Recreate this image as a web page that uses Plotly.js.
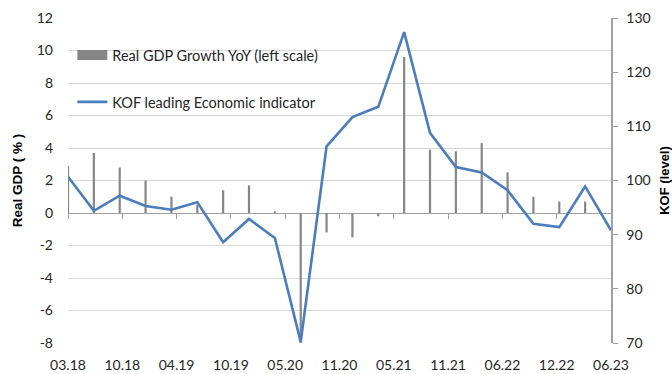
<!DOCTYPE html>
<html>
<head>
<meta charset="utf-8">
<script src="https://cdn.plot.ly/plotly-3.0.1.min.js"></script>
<style>html,body{margin:0;padding:0;background:#fff;}#chart{width:672px;height:374px;}</style>
</head>
<body>
<div id="chart"></div>
<script>
// Quarterly observations, 03.18 .. 06.23 (22 quarters)
const quarters = ["03.18","06.18","09.18","12.18","03.19","06.19","09.19","12.19","03.20","06.20","09.20","12.20","03.21","06.21","09.21","12.21","03.22","06.22","09.22","12.22","03.23","06.23"];
const gdpGrowth = [2.9, 3.7, 2.8, 2.0, 1.0, 0.5, 1.4, 1.7, 0.1, -8.0, -1.2, -1.5, -0.2, 9.6, 3.9, 3.8, 4.3, 2.5, 1.0, 0.7, 0.7, null];
const kof = [100.7, 94.4, 97.2, 95.3, 94.6, 96.0, 88.6, 92.9, 89.4, 70.2, 106.3, 111.7, 113.6, 127.4, 108.8, 102.5, 101.5, 98.2, 92.0, 91.4, 98.9, 90.8];
const tickLabels = ["03.18","10.18","04.19","10.19","05.20","11.20","05.21","11.21","06.22","12.22","06.23"];
const leftTicks = [-8, -6, -4, -2, 0, 2, 4, 6, 8, 10, 12];
const rightTicks = [70, 80, 90, 100, 110, 120, 130];

const gdpName = "Real GDP Growth YoY (left scale)";
const kofName = "KOF leading Economic indicator";

const idx = quarters.map((q, i) => i);
const nInt = tickLabels.length - 1;
const span = quarters.length - 1;
const tickPos = tickLabels.map((t, k) => k * span / nInt);

const FONT = "Lato, 'Open Sans', sans-serif";
const TFONT = "'Liberation Sans', Arial, sans-serif";
const txt = "#262626";
const barColor = "#868686";
const axisGrey = "#a0a0a0";

const traces = [
  {
    type: "bar", x: idx, y: gdpGrowth, xaxis: "x", yaxis: "y",
    name: gdpName, showlegend: false,
    marker: {color: barColor, line: {width: 0}},
    width: 0.085, legendgroup: "a", hoverinfo: "x+y"
  },
  // legend key for the bars (wide grey block, as in the original legend)
  {
    type: "scatter", mode: "lines", x: [null], y: [null], xaxis: "x", yaxis: "y",
    name: gdpName, line: {color: barColor, width: 10}, legendgroup: "a", hoverinfo: "skip"
  },
  {
    type: "scatter", mode: "lines", x: idx, y: kof, xaxis: "x", yaxis: "y2",
    name: kofName,
    line: {color: "#4a7dbd", width: 2.6},
    legendgroup: "b"
  },
  {
    type: "scatter", mode: "lines", x: [0, span], y: [null, null], xaxis: "x2", yaxis: "y",
    showlegend: false, hoverinfo: "skip"
  }
];

const layout = {
  width: 672, height: 374,
  margin: {l: 68, r: 61, t: 18, b: 31, pad: 0},
  paper_bgcolor: "#fff", plot_bgcolor: "rgba(0,0,0,0)",
  font: {family: FONT, size: 14, color: txt},
  barmode: "overlay",
  showlegend: true,
  legend: {
    x: 0.008, y: 0.935, xanchor: "left", yanchor: "top",
    bgcolor: "rgba(0,0,0,0)", borderwidth: 0,
    font: {family: FONT, size: 14.5, color: txt},
    traceorder: "grouped", tracegroupgap: 25
  },
  xaxis: {
    range: [0, span], showgrid: false, zeroline: false, showline: false,
    tickmode: "array", tickvals: tickPos, ticktext: tickLabels,
    ticks: "", ticklabelstandoff: 12,
    tickfont: {family: FONT, size: 14, color: txt}
  },
  xaxis2: {
    overlaying: "x", anchor: "free", position: 0.4,
    range: [0, span], showgrid: false, zeroline: false, showline: false,
    tickmode: "array", tickvals: tickPos, ticks: "outside", ticklen: 5, tickwidth: 1,
    tickcolor: axisGrey, showticklabels: false
  },
  yaxis: {
    range: [-8, 12],
    tickmode: "array", tickvals: leftTicks, ticktext: leftTicks.map(String),
    showgrid: true, gridcolor: "#d9d9d9", gridwidth: 1,
    zeroline: true, zerolinecolor: axisGrey, zerolinewidth: 1,
    showline: false, ticks: "", ticklabelstandoff: 14,
    tickfont: {family: FONT, size: 14, color: txt},
    title: {text: "<b>Real GDP ( % )</b>", font: {family: TFONT, size: 13.5, color: "#000"}, standoff: 11}
  },
  yaxis2: {
    range: [70, 130], overlaying: "y", side: "right", anchor: "x",
    tickmode: "array", tickvals: rightTicks, ticktext: rightTicks.map(String),
    showgrid: false, zeroline: false,
    showline: true, linecolor: axisGrey, linewidth: 1.5,
    ticks: "outside", ticklen: 5, tickcolor: axisGrey,
    tickfont: {family: FONT, size: 14, color: txt}, ticklabelstandoff: 6,
    title: {text: "<b>KOF (level)</b>", font: {family: TFONT, size: 13, color: "#000"}, standoff: 14}
  }
};

Plotly.newPlot("chart", traces, layout, {displayModeBar: false, staticPlot: true});
</script>
</body>
</html>
